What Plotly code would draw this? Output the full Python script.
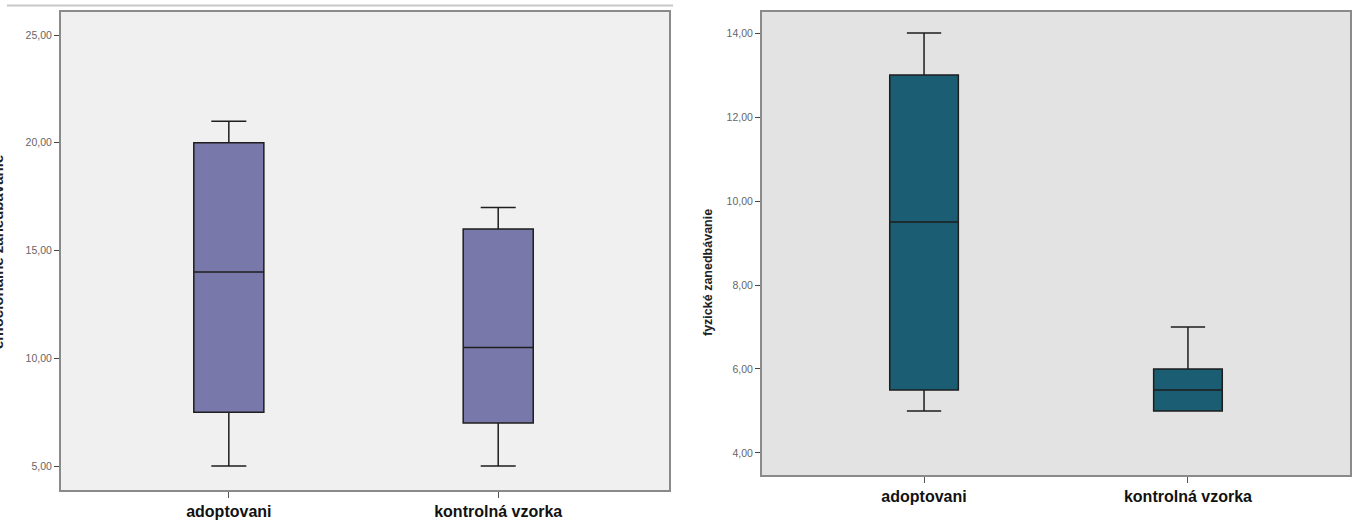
import plotly.graph_objects as go

W, H = 1358, 522

categories = ["adoptovani", "kontrolná vzorka"]

# left panel (emotional neglect)
left_min = [5, 5]
left_q1 = [7.5, 7]
left_median = [14, 10.5]
left_q3 = [20, 16]
left_max = [21, 17]
left_ticks = [5, 10, 15, 20, 25]
left_ticktext = ["5,00", "10,00", "15,00", "20,00", "25,00"]
left_title = "emocionálne zanedbávanie"

# right panel (physical neglect)
right_min = [5, 5]
right_q1 = [5.5, 5]
right_median = [9.5, 5.5]
right_q3 = [13, 6]
right_max = [14, 7]
right_ticks = [4, 6, 8, 10, 12, 14]
right_ticktext = ["4,00", "6,00", "8,00", "10,00", "12,00", "14,00"]
right_title = "fyzické zanedbávanie"

fig = go.Figure()

fig.add_trace(go.Box(
    x=categories, q1=left_q1, median=left_median, q3=left_q3,
    lowerfence=left_min, upperfence=left_max,
    fillcolor="#7878aa", line=dict(color="#1e1e1e", width=1.5),
    whiskerwidth=0.5, boxpoints=False, hoverinfo="skip",
    xaxis="x", yaxis="y", showlegend=False,
))
fig.add_trace(go.Box(
    x=categories, q1=right_q1, median=right_median, q3=right_q3,
    lowerfence=right_min, upperfence=right_max,
    fillcolor="#1b5e73", line=dict(color="#1e1e1e", width=1.5),
    whiskerwidth=0.5, boxpoints=False, hoverinfo="skip",
    xaxis="x2", yaxis="y2", showlegend=False,
))

tickfont = dict(family="Liberation Sans, Arial", size=10.5, color="#666666")
catfont = dict(family="Liberation Sans, Arial", size=16, color="#111111")

common_x = dict(type="category", showline=True, mirror=True, linecolor="#8a8a8a",
                linewidth=2, ticks="outside", ticklen=6, tickcolor="#555555",
                tickfont=catfont, showgrid=False, zeroline=False, fixedrange=True)
common_y = dict(showline=True, mirror=True, linecolor="#8a8a8a", linewidth=2,
                ticks="outside", ticklen=5, tickcolor="#444444", tickfont=tickfont,
                showgrid=False, zeroline=False, fixedrange=True)

fig.update_layout(
    width=W, height=H,
    margin=dict(l=0, r=0, t=0, b=0),
    paper_bgcolor="white",
    boxgap=0.74, boxgroupgap=0,
    xaxis=dict(domain=[61 / W, 669 / W], range=[-0.623, 1.634], anchor="y",
               ticktext=[f"<b>{c}</b>" for c in categories], tickvals=categories,
               **common_x),
    yaxis=dict(domain=[32 / H, 510 / H], range=[3.886, 26.07], anchor="x",
               tickvals=left_ticks, ticktext=left_ticktext, **common_y),
    xaxis2=dict(domain=[762 / W, 1350 / W], range=[-0.614, 1.614], anchor="y2",
                ticktext=[f"<b>{c}</b>" for c in categories], tickvals=categories,
                **common_x),
    yaxis2=dict(domain=[47 / H, 510 / H], range=[3.476, 14.5], anchor="x2",
                tickvals=right_ticks, ticktext=right_ticktext, **common_y),
    plot_bgcolor="#f0f0f0",
    shapes=[
        dict(type="rect", xref="x2 domain", yref="y2 domain", x0=0, x1=1, y0=0, y1=1,
             fillcolor="#e3e3e3", line=dict(width=0), layer="below"),
        dict(type="line", xref="paper", yref="paper", x0=7 / W, x1=673 / W,
             y0=1 - 5.5 / H, y1=1 - 5.5 / H, line=dict(color="#c8c8c8", width=2)),
    ],
    annotations=[
        dict(text=f"<b>{left_title}</b>", xref="paper", yref="paper",
             x=-3 / W, y=1 - 252 / H, xanchor="center", yanchor="middle",
             textangle=-90, showarrow=False,
             font=dict(family="Liberation Sans, Arial", size=15, color="#222222")),
        dict(text=f"<b>{right_title}</b>", xref="paper", yref="paper",
             x=708 / W, y=1 - 273 / H, xanchor="center", yanchor="middle",
             textangle=-90, showarrow=False,
             font=dict(family="Liberation Sans, Arial", size=12.5, color="#222222")),
    ],
)

fig.write_html("out.html", config={"displayModeBar": False})

with open("out.html", "r", encoding="utf-8") as f:
    html = f.read()
html = html.replace("<body>", '<body style="margin:0;padding:0;overflow:hidden">', 1)
with open("out.html", "w", encoding="utf-8") as f:
    f.write(html)
